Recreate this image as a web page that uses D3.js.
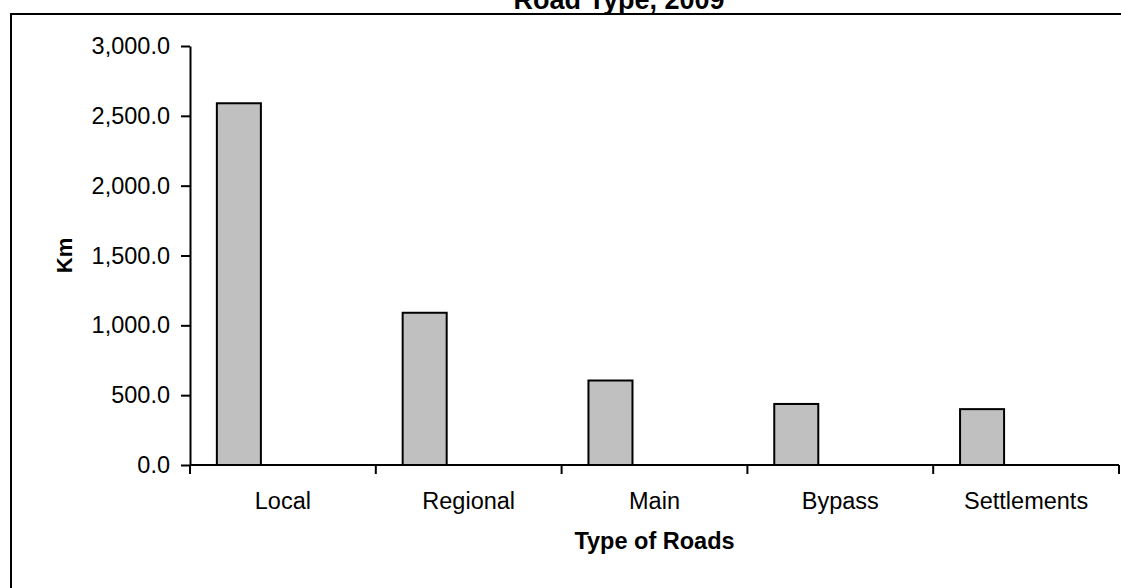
<!DOCTYPE html>
<meta charset="utf-8">
<script src="https://d3js.org/d3.v7.min.js"></script>
<style>
  body { margin: 0; background: #fff; }
  text { font-family: "Liberation Sans", Arial, sans-serif; }
</style>
<div id="chart"></div>
<script>

// data
var roadTypes = ["Local", "Regional", "Main", "Bypass", "Settlements"];
var km2009 = [2590, 1090, 605, 437, 400];
var yTicks = [0, 500, 1000, 1500, 2000, 2500, 3000];

var W = 1121, H = 588;
var margin = {top: 46, right: 2, bottom: 123, left: 190},
  width = 1119 - margin.left,
  height = 465 - margin.top;

var svg = d3.select("#chart")
  .append("svg")
    .attr("width", W)
    .attr("height", H);

// outer frame (runs off the right and bottom edge)
svg.append("rect")
  .attr("x", 11).attr("y", 14)
  .attr("width", W + 20).attr("height", H + 20)
  .attr("fill", "none")
  .attr("stroke", "#000")
  .attr("stroke-width", 2);

// title, only its lower part shows
svg.append("text")
  .attr("x", 619).attr("y", 9)
  .attr("text-anchor", "middle")
  .style("font-size", "27px")
  .style("font-weight", "bold")
  .text("Road Type, 2009");

var g = svg.append("g")
  .attr("transform", "translate(" + margin.left + "," + margin.top + ")");

var x = d3.scaleBand()
  .domain(roadTypes)
  .range([0, width])
  .padding(0);

var y = d3.scaleLinear()
  .domain([0, 3000])
  .range([height, 0]);

// excel style cluster: room for 3 series, gap width 122%
var gap = 1.22;
var barW = x.bandwidth() / (3 + gap);
var offset = gap * barW / 2;

g.selectAll(".bar")
  .data(roadTypes)
  .enter()
  .append("rect")
    .attr("class", "bar")
    .attr("x", function(d){ return x(d) + offset })
    .attr("y", function(d, i){ return y(km2009[i]) })
    .attr("width", barW)
    .attr("height", function(d, i){ return height - y(km2009[i]) })
    .attr("fill", "#c0c0c0")
    .attr("stroke", "#000")
    .attr("stroke-width", 2);

// y axis
var yAxis = g.append("g")
  .call(d3.axisLeft(y)
    .tickValues(yTicks)
    .tickFormat(d3.format(",.1f"))
    .tickSize(9)
    .tickSizeOuter(0)
    .tickPadding(11));

// x axis, ticks on band edges
var xAxis = g.append("g")
  .attr("transform", "translate(0," + height + ")");

xAxis.append("line")
  .attr("x1", 0).attr("x2", width)
  .attr("stroke", "#000").attr("stroke-width", 2);

xAxis.selectAll(".edge")
  .data(roadTypes.concat(["end"]))
  .enter()
  .append("line")
    .attr("class", "edge")
    .attr("x1", function(d, i){ return i * x.step() })
    .attr("x2", function(d, i){ return i * x.step() })
    .attr("y1", 0).attr("y2", 9)
    .attr("stroke", "#000").attr("stroke-width", 2);

xAxis.selectAll(".lbl")
  .data(roadTypes)
  .enter()
  .append("text")
    .attr("class", "lbl")
    .attr("x", function(d){ return x(d) + x.bandwidth() / 2 })
    .attr("y", 44)
    .attr("text-anchor", "middle")
    .style("font-size", "23.5px")
    .text(function(d){ return d });

yAxis.select(".domain").attr("stroke", "#000").attr("stroke-width", 2);
yAxis.selectAll(".tick line").attr("stroke", "#000").attr("stroke-width", 2);
yAxis.selectAll(".tick text")
  .style("font-size", "23.5px")
  .style("font-family", "'Liberation Sans', Arial, sans-serif")
  .attr("fill", "#000");

// axis titles
svg.append("text")
  .attr("x", margin.left + width / 2)
  .attr("y", 549)
  .attr("text-anchor", "middle")
  .style("font-size", "23.5px")
  .style("font-weight", "bold")
  .text("Type of Roads");

svg.append("text")
  .attr("transform", "translate(72," + (margin.top + height / 2) + ")rotate(-90)")
  .attr("text-anchor", "middle")
  .style("font-size", "22px")
  .style("font-weight", "bold")
  .text("Km");

</script>
